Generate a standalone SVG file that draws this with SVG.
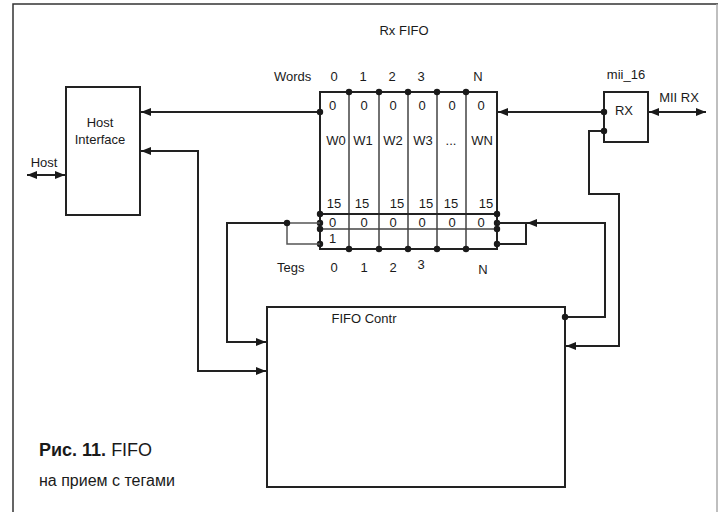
<svg xmlns="http://www.w3.org/2000/svg" width="718" height="512" viewBox="0 0 718 512">
<style>
text{font-family:"Liberation Sans",Arial,sans-serif;font-size:13px;fill:#1a1a1a}
.box{fill:none;stroke:#222;stroke-width:2}
.ln{fill:none;stroke:#222;stroke-width:2}
.gl{fill:none;stroke:#555;stroke-width:1.5}
.dv{fill:none;stroke:#444;stroke-width:1.5}
.dot{fill:#1a1a1a}
.c{text-anchor:middle}
</style>
<defs>
<marker id="ah" viewBox="0 0 10 8" refX="10" refY="4" markerWidth="10" markerHeight="8" markerUnits="userSpaceOnUse" orient="auto-start-reverse">
<path d="M0,0 L10,4 L0,8 Z" fill="#1a1a1a"/>
</marker>
</defs>
<rect x="0" y="0" width="718" height="512" fill="#fff"/>
<g id="frame">
<path d="M13,512 V4 H718" fill="none" stroke="#333" stroke-width="1.5"/>
<line x1="717" y1="4" x2="717" y2="512" stroke="#aaa" stroke-width="1.5"/>
</g>
<text x="404" y="35" class="c">Rx FIFO</text>
<g id="host-interface">
<rect class="box" x="66" y="87" width="74" height="128"/>
<text x="100" y="127" class="c">Host</text>
<text x="100" y="144" class="c">Interface</text>
</g>
<text x="44" y="167" class="c">Host</text>
<g id="rx-fifo">
<rect class="box" x="320" y="92" width="177" height="157"/>
<path class="dv" d="M349,92 V249 M379,92 V249 M408,92 V249 M437,92 V249 M466,92 V249"/>
<line class="ln" x1="320" y1="214" x2="497" y2="214"/>
<line class="dv" x1="320" y1="229" x2="497" y2="229"/>
<text x="274" y="81">Words</text>
<text x="334" y="81" class="c">0</text>
<text x="363" y="81" class="c">1</text>
<text x="392" y="81" class="c">2</text>
<text x="421" y="81" class="c">3</text>
<text x="478" y="81" class="c">N</text>
<text x="329" y="110">0</text>
<text x="364" y="110" class="c">0</text>
<text x="393" y="110" class="c">0</text>
<text x="422" y="110" class="c">0</text>
<text x="452" y="110" class="c">0</text>
<text x="481" y="110" class="c">0</text>
<text x="336" y="145" class="c">W0</text>
<text x="363" y="145" class="c">W1</text>
<text x="393" y="145" class="c">W2</text>
<text x="423" y="145" class="c">W3</text>
<text x="451" y="145" class="c">...</text>
<text x="482" y="145" class="c">WN</text>
<text x="334" y="208" class="c">15</text>
<text x="362" y="208" class="c">15</text>
<text x="397" y="208" class="c">15</text>
<text x="426" y="208" class="c">15</text>
<text x="451" y="208" class="c">15</text>
<text x="486" y="208" class="c">15</text>
<text x="329" y="227">0</text>
<text x="364" y="227" class="c">0</text>
<text x="393" y="227" class="c">0</text>
<text x="422" y="227" class="c">0</text>
<text x="452" y="227" class="c">0</text>
<text x="481" y="227" class="c">0</text>
<text x="329" y="243">1</text>
<text x="277" y="272">Tegs</text>
<text x="334" y="272" class="c">0</text>
<text x="364" y="272" class="c">1</text>
<text x="393" y="272" class="c">2</text>
<text x="421" y="269" class="c">3</text>
<text x="483" y="274" class="c">N</text>
<g class="dot">
<circle cx="349" cy="92" r="3.2"/><circle cx="379" cy="92" r="3.2"/><circle cx="408" cy="92" r="3.2"/><circle cx="437" cy="92" r="3.2"/><circle cx="466" cy="92" r="3.2"/>
<circle cx="349" cy="249" r="3.2"/><circle cx="379" cy="249" r="3.2"/><circle cx="408" cy="249" r="3.2"/><circle cx="437" cy="249" r="3.2"/><circle cx="466" cy="249" r="3.2"/>
<circle cx="320" cy="214" r="3.2"/><circle cx="320" cy="223" r="3.2"/><circle cx="320" cy="229" r="3.2"/><circle cx="320" cy="244" r="3.2"/>
<circle cx="497" cy="214" r="3.2"/><circle cx="497" cy="223" r="3.2"/><circle cx="497" cy="229" r="3.2"/><circle cx="497" cy="244" r="3.2"/>
</g>
</g>
<g id="rx">
<rect class="box" x="604" y="92" width="44" height="50"/>
<text x="624" y="115" class="c">RX</text>
<text x="626" y="79" class="c">mii_16</text>
<text x="679" y="102" class="c">MII RX</text>
</g>
<g id="fifo-contr">
<rect class="box" x="267" y="307" width="298" height="180"/>
<text x="364" y="323" class="c">FIFO Contr</text>
</g>
<g id="connectors">
<line class="ln" x1="320" y1="112" x2="141" y2="112" marker-end="url(#ah)"/>
<path class="ln" d="M141,151 H198 V371 H266" marker-start="url(#ah)" marker-end="url(#ah)"/>
<path class="ln" d="M287,223 H227 V342 H266" marker-end="url(#ah)"/>
<path class="gl" d="M287,223 H320 M287,223 V244 H320"/>
<line class="ln" x1="27" y1="175" x2="65" y2="175" marker-start="url(#ah)" marker-end="url(#ah)"/>
<line class="ln" x1="604" y1="112" x2="498" y2="112" marker-end="url(#ah)"/>
<line class="ln" x1="649" y1="112" x2="706" y2="112" marker-start="url(#ah)" marker-end="url(#ah)"/>
<path class="ln" d="M604,131 H589 V194 H619 V346 H566" marker-end="url(#ah)"/>
<path class="ln" d="M565,317 H605 V223 H527" marker-end="url(#ah)"/>
<path class="ln" d="M497,223 H526 V244 H497"/>
<g class="dot">
<circle cx="320" cy="112" r="3.2"/>
<circle cx="604" cy="112" r="3.2"/>
<circle cx="604" cy="131" r="3.2"/>
<circle cx="287" cy="223" r="3.2"/>
<circle cx="565" cy="317" r="3.2"/>
</g>
</g>
<g id="caption">
<text x="39" y="456" style="font-size:18px"><tspan style="font-weight:bold">Рис. 11.</tspan> FIFO</text>
<text x="39" y="486" style="font-size:16px">на прием с тегами</text>
</g>
</svg>
